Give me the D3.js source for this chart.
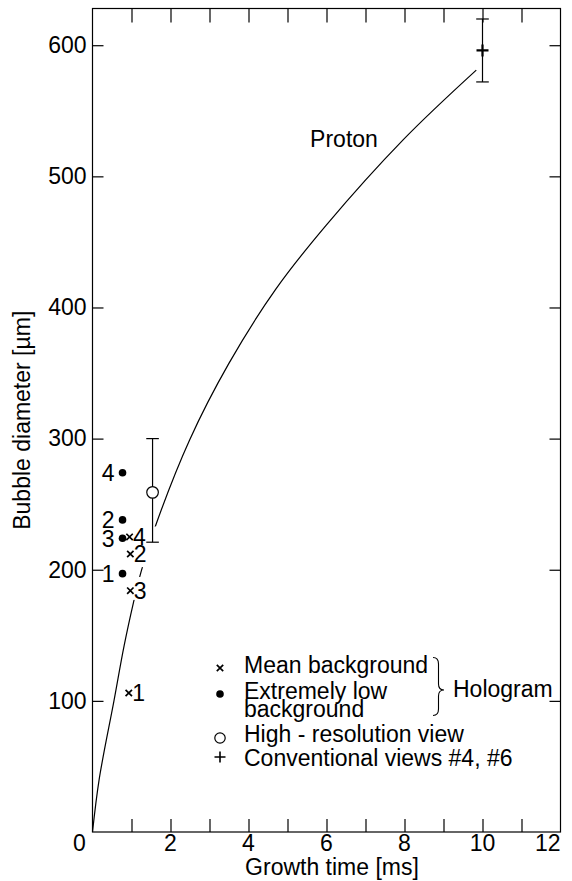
<!DOCTYPE html>
<html>
<head>
<meta charset="utf-8">
<script src="https://cdn.jsdelivr.net/npm/d3@7"></script>
<style>
  html, body { margin: 0; padding: 0; background: #fff; }
  svg { display: block; font-family: "Liberation Sans", Arial, sans-serif; }
  text { fill: #000; }
</style>
</head>
<body>
<svg id="chart" width="572" height="881"></svg>
<script>
// proton growth curve
const curveTime = [0, 0.17, 0.55, 0.81, 1.05, 1.21, 1.28, 1.61, 2.49, 3.49, 4.7, 6.0, 7.97, 9.84];
const curveDiam = [0, 40, 100, 142, 175, 194.5, 202, 233, 299, 357, 414, 463, 528, 581];
// pieces of the curve left blank behind the labels (diameter ranges)
const curveGaps = [[177, 194.5], [202, 233]];

// hologram, extremely low background
const lowLabels = ["1", "2", "3", "4"];
const lowTime = [0.77, 0.77, 0.77, 0.77];
const lowDiam = [197, 238, 224, 274];

// hologram, mean background
const meanLabels = ["1", "2", "3", "4"];
const meanTime = [0.93, 0.97, 0.97, 0.95];
const meanDiam = [106, 212, 184, 225];

// high-resolution view
const hiresTime = [1.54];
const hiresDiam = [259];
const hiresLow = [221];
const hiresHigh = [300];

// conventional views #4, #6
const convTime = [10.0];
const convDiam = [596];
const convLow = [572];
const convHigh = [620];

const xTicks = [1, 2, 3, 4, 5, 6, 7, 8, 9, 10, 11];
const xLabels = [0, 2, 4, 6, 8, 10, 12];
const yTicks = [100, 200, 300, 400, 500, 600];

const FONT = 23;

const svg = d3.select("#chart");

const x = d3.scaleLinear().domain([0, 12]).range([92.5, 560.5]);
const y = d3.scaleLinear().domain([0, 628]).range([832, 8.5]);

const g = svg.append("g");

// frame
g.append("rect")
  .attr("x", x(0))
  .attr("y", y(628))
  .attr("width", x(12) - x(0))
  .attr("height", y(0) - y(628))
  .attr("fill", "none")
  .attr("stroke", "#000")
  .attr("stroke-width", 1.2);

// ticks, all pointing inward
const bottomAxis = d3.axisBottom(x).tickValues(xTicks).tickSizeInner(-13).tickSizeOuter(0).tickFormat("");
const topAxis = d3.axisTop(x).tickValues(xTicks).tickSizeInner(-14).tickSizeOuter(0).tickFormat("");
const leftAxis = d3.axisLeft(y).tickValues(yTicks).tickSizeInner(-11).tickSizeOuter(0).tickPadding(6);
const rightAxis = d3.axisRight(y).tickValues(yTicks).tickSizeInner(-11).tickSizeOuter(0).tickFormat("");

g.append("g").attr("transform", `translate(0,${y(0)})`).call(bottomAxis);
g.append("g").attr("transform", `translate(0,${y(628)})`).call(topAxis);
g.append("g").attr("class", "y-axis").attr("transform", `translate(${x(0)},0)`).call(leftAxis);
g.append("g").attr("transform", `translate(${x(12)},0)`).call(rightAxis);

g.selectAll(".domain").remove();
g.selectAll(".tick line").attr("stroke", "#000").attr("stroke-width", 1.2);
g.selectAll(".y-axis text")
  .attr("font-size", FONT)
  .attr("font-family", "Liberation Sans, Arial, sans-serif")
  .attr("fill", "#000");

// x tick labels (0 and 12 are nudged inward like the original)
g.selectAll(".x-label")
  .data(xLabels)
  .enter()
  .append("text")
  .attr("class", "x-label")
  .attr("x", d => d === 0 ? x(d) - 13 : x(d))
  .attr("y", y(0) + 18.5)
  .attr("text-anchor", d => d === 12 ? "end" : "middle")
  .attr("font-size", FONT)
  .text(d => d);

// axis titles
svg.append("text")
  .attr("x", 332)
  .attr("y", 875)
  .attr("text-anchor", "middle")
  .attr("font-size", FONT)
  .text("Growth time [ms]");

svg.append("text")
  .attr("transform", `translate(30,${(y(0) + y(628)) / 2}) rotate(-90)`)
  .attr("text-anchor", "middle")
  .attr("font-size", FONT)
  .text("Bubble diameter [\u00b5m]");

// curve with gaps behind labels
const mask = svg.append("defs").append("mask")
  .attr("id", "curve-gaps")
  .attr("maskUnits", "userSpaceOnUse")
  .attr("x", 0).attr("y", 0).attr("width", 572).attr("height", 881);
mask.append("rect").attr("width", 572).attr("height", 881).attr("fill", "#fff");
mask.selectAll(".gap")
  .data(curveGaps)
  .enter()
  .append("rect")
  .attr("x", 0)
  .attr("width", 572)
  .attr("y", d => y(d[1]))
  .attr("height", d => y(d[0]) - y(d[1]))
  .attr("fill", "#000");

const curvePoints = curveTime.map((t, i) => [t, curveDiam[i]]);
const line = d3.line()
  .x(d => x(d[0]))
  .y(d => y(d[1]))
  .curve(d3.curveCatmullRom.alpha(0.5));

g.append("path")
  .datum(curvePoints)
  .attr("d", line)
  .attr("fill", "none")
  .attr("stroke", "#000")
  .attr("stroke-width", 1.2)
  .attr("mask", "url(#curve-gaps)");

g.append("text")
  .attr("x", x(5.58))
  .attr("y", y(522))
  .attr("font-size", FONT)
  .text("Proton");

// error bars
const errorBar = (t, lo, hi, cap) => {
  g.append("line")
    .attr("x1", x(t)).attr("x2", x(t))
    .attr("y1", y(lo)).attr("y2", y(hi))
    .attr("stroke", "#000").attr("stroke-width", 1.2);
  [lo, hi].forEach(v => {
    g.append("line")
      .attr("x1", x(t) - cap).attr("x2", x(t) + cap)
      .attr("y1", y(v)).attr("y2", y(v))
      .attr("stroke", "#000").attr("stroke-width", 1.2);
  });
};

hiresTime.forEach((t, i) => errorBar(t, hiresLow[i], hiresHigh[i], 6.3));
convTime.forEach((t, i) => errorBar(t, convLow[i], convHigh[i], 6.3));

g.selectAll(".hires")
  .data(hiresTime)
  .enter()
  .append("circle")
  .attr("cx", d => x(d))
  .attr("cy", (d, i) => y(hiresDiam[i]))
  .attr("r", 5.8)
  .attr("fill", "#fff")
  .attr("stroke", "#000")
  .attr("stroke-width", 1.2);

const plusPath = s => `M${-s},0H${s}M0,${-s}V${s}`;
const crossPath = s => `M${-s},${-s}L${s},${s}M${-s},${s}L${s},${-s}`;

g.selectAll(".conv")
  .data(convTime)
  .enter()
  .append("path")
  .attr("transform", (d, i) => `translate(${x(d)},${y(convDiam[i])})`)
  .attr("d", plusPath(6))
  .attr("stroke", "#000")
  .attr("stroke-width", 2.2);

// filled dots with labels on the left
g.selectAll(".low")
  .data(lowTime)
  .enter()
  .append("circle")
  .attr("cx", d => x(d))
  .attr("cy", (d, i) => y(lowDiam[i]))
  .attr("r", 3.8)
  .attr("fill", "#000");

g.selectAll(".low-label")
  .data(lowLabels)
  .enter()
  .append("text")
  .attr("x", (d, i) => x(lowTime[i]) - 8)
  .attr("y", (d, i) => y(lowDiam[i]))
  .attr("dy", "0.36em")
  .attr("text-anchor", "end")
  .attr("font-size", FONT)
  .text(d => d);

// crosses with labels on the right
g.selectAll(".mean")
  .data(meanTime)
  .enter()
  .append("path")
  .attr("transform", (d, i) => `translate(${x(d)},${y(meanDiam[i])})`)
  .attr("d", crossPath(3.2))
  .attr("stroke", "#000")
  .attr("stroke-width", 1.7);

g.selectAll(".mean-label")
  .data(meanLabels)
  .enter()
  .append("text")
  .attr("x", (d, i) => x(meanTime[i]) + 3.5)
  .attr("y", (d, i) => y(meanDiam[i]))
  .attr("dy", "0.36em")
  .attr("font-size", FONT)
  .text(d => d);

// legend
const legend = svg.append("g");
const markX = 220;
const textX = 244;

legend.append("path")
  .attr("transform", "translate(220,668)")
  .attr("d", crossPath(3.2))
  .attr("stroke", "#000")
  .attr("stroke-width", 1.7);
legend.append("text").attr("x", textX).attr("y", 672.5).attr("font-size", FONT).text("Mean background");

legend.append("circle").attr("cx", markX).attr("cy", 694).attr("r", 3.8).attr("fill", "#000");
legend.append("text").attr("x", textX).attr("y", 698.5).attr("font-size", FONT).text("Extremely low");
legend.append("text").attr("x", textX).attr("y", 716.5).attr("font-size", FONT).text("background");

legend.append("circle").attr("cx", markX).attr("cy", 738).attr("r", 5.2)
  .attr("fill", "#fff").attr("stroke", "#000").attr("stroke-width", 1.2);
legend.append("text").attr("x", textX).attr("y", 742).attr("font-size", FONT).text("High - resolution view");

legend.append("path")
  .attr("transform", "translate(220,757)")
  .attr("d", plusPath(5.5))
  .attr("stroke", "#000")
  .attr("stroke-width", 1.6);
legend.append("text").attr("x", textX).attr("y", 766).attr("font-size", FONT).text("Conventional views #4, #6");

// brace grouping the hologram entries
legend.append("path")
  .attr("d", "M433,657.5 Q438.5,657.5 438.5,664 L438.5,684 Q438.5,690 444,690 Q438.5,690 438.5,696 L438.5,709 Q438.5,715.5 433,715.5")
  .attr("fill", "none")
  .attr("stroke", "#000")
  .attr("stroke-width", 1.1);
legend.append("text").attr("x", 453).attr("y", 697).attr("font-size", FONT).text("Hologram");
</script>
</body>
</html>
